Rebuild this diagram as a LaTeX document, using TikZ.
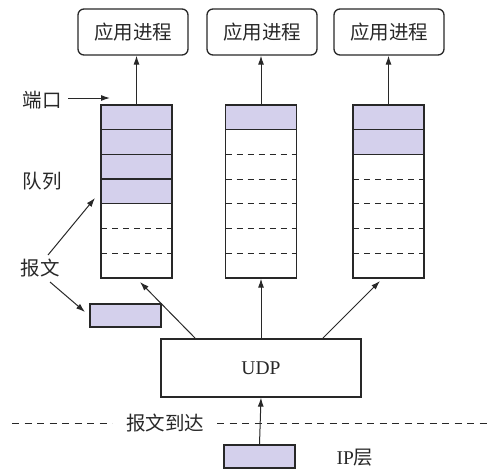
\documentclass[tikz,border=0pt]{standalone}
\usepackage{fontspec}
\setmainfont{Liberation Serif}
\newfontfamily\cjk{Noto Sans CJK SC}
\usetikzlibrary{arrows.meta}
\definecolor{pkt}{RGB}{212,208,236}
\definecolor{ink}{RGB}{40,40,40}
\begin{document}
\begin{tikzpicture}[x=1pt,y=-1pt,
  every node/.style={text=ink},
  lbl/.style={font=\cjk\fontsize{19.5}{19.5}\selectfont, inner sep=0pt},
  proc/.style={draw=ink, line width=1.3pt, rounded corners=6pt, minimum width=110pt, minimum height=46pt, inner sep=0pt, font=\cjk\fontsize{19.5}{19.5}\selectfont},
  qbox/.style={draw=ink, line width=1.3pt, minimum width=71pt, minimum height=173pt, inner sep=0pt},
  pbox/.style={draw=ink, line width=1.3pt, fill=pkt, minimum width=71pt, minimum height=23pt, inner sep=0pt},
  udpbox/.style={draw=ink, line width=1.3pt, minimum width=200pt, minimum height=58pt, inner sep=0pt, font=\fontsize{19.5}{19.5}\selectfont},
  arr/.style={draw=ink, line width=1pt, -{Latex[length=9pt,width=6pt]}},
  solidrow/.style={draw=ink, line width=1.3pt},
  dashrow/.style={draw=ink, line width=1.1pt, dash pattern=on 6pt off 5pt},
  arrline/.style={draw=ink, line width=1pt, dash pattern=on 7pt off 5.5pt},
]
\useasboundingbox (0,0) rectangle (500,475);

% queues: fills
\fill[pkt] (101,105) rectangle (172,203.8);
\fill[pkt] (225.5,105) rectangle (296.5,129.7);
\fill[pkt] (353,105) rectangle (424,154.4);

% queue 1 rows
\foreach \y in {129.7,154.4,179.1,203.8} \draw[solidrow] (101,\y) -- (172,\y);
\foreach \y in {228.5,253.2} \draw[dashrow] (101,\y) -- (172,\y);
% queue 2 rows
\draw[solidrow] (225.5,129.7) -- (296.5,129.7);
\foreach \y in {154.4,179.1,203.8,228.5,253.2} \draw[dashrow] (225.5,\y) -- (296.5,\y);
% queue 3 rows
\foreach \y in {129.7,154.4} \draw[solidrow] (353,\y) -- (424,\y);
\foreach \y in {179.1,203.8,228.5,253.2} \draw[dashrow] (353,\y) -- (424,\y);

\node[qbox] (q1) at (136.5,191.5) {};
\node[qbox] (q2) at (261,191.5) {};
\node[qbox] (q3) at (388.5,191.5) {};

% application processes
\node[proc] (a1) at (133,32) {应用进程};
\node[proc] (a2) at (262,32) {应用进程};
\node[proc] (a3) at (389,32) {应用进程};

\draw[arr] (q1.north) -- (q1.north |- a1.south);
\draw[arr] (q2.north) -- (q2.north |- a2.south);
\draw[arr] (q3.north) -- (q3.north |- a3.south);

% labels
\node[lbl] (port) at (42,100) {端口};
\coordinate (portend) at (110,98);
\draw[arr] (68,98) -- (portend);
\node[lbl] (queue) at (42,181) {队列};
\node[lbl] (msg) at (40,268) {报文};

% small packet
\node[pbox] (p1) at (125.5,315.5) {};
\coordinate (qin) at (95,198);
\draw[arr] (48,255) -- (qin);
\draw[arr] (50,282) -- (85,312);

% UDP
\node[udpbox] (udp) at (261,368) {UDP};
\draw[arr] (195,338) -- (140,282);
\draw[arr] (udp.north) -- (q2.south);
\draw[arr] (323,338) -- (380,281);

% arrival line
\node[lbl] (arrive) at (165,423) {报文到达};
\draw[arrline] (12,423) -- (112,423);
\draw[arrline] (217,423) -- (490,423);

% IP packet
\node[pbox] (ip) at (259.5,456.5) {};
\draw[arr] (ip.north) -- (udp.south);
\node[font=\fontsize{19.5}{19.5}\selectfont, inner sep=0pt] (iplbl) at (355,458) {IP\cjk 层};
\end{tikzpicture}
\end{document}
